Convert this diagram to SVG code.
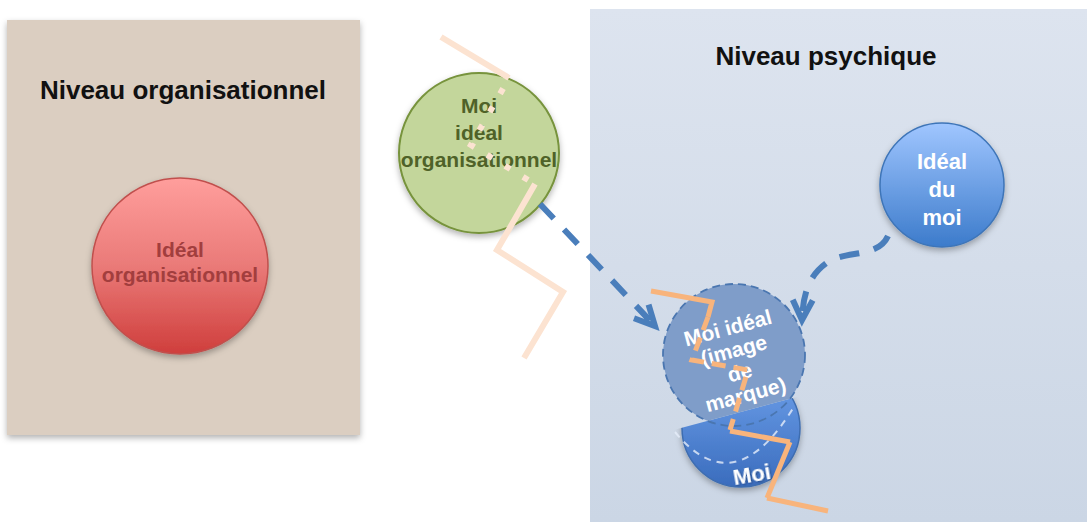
<svg xmlns="http://www.w3.org/2000/svg" width="1087" height="522" viewBox="0 0 1087 522">
<style>
.title{font-family:"Liberation Sans",Arial,sans-serif;font-weight:bold;font-size:26px;fill:#111;text-anchor:middle}
.lbl{font-family:"Liberation Sans",Arial,sans-serif;font-weight:bold;font-size:21px;text-anchor:middle}
.white{fill:#fff}
.peach{fill:none;stroke:#FCE3D1;stroke-width:6}
.orange{fill:none;stroke:#F8B47C;stroke-width:5}
.arrow{fill:none;stroke:#4A7EBB;stroke-width:6;stroke-dasharray:20 15}
</style>
<defs>
<linearGradient id="gRed" x1="0" y1="0" x2="0" y2="1"><stop offset="0" stop-color="#FF9E9C"/><stop offset="0.5" stop-color="#EA7A78"/><stop offset="1" stop-color="#CF3E3C"/></linearGradient>
<linearGradient id="gBlue" x1="0" y1="0" x2="0" y2="1"><stop offset="0" stop-color="#A0C6FF"/><stop offset="1" stop-color="#3C7BCB"/></linearGradient>
<linearGradient id="gMoi" x1="0" y1="0" x2="0" y2="1"><stop offset="0" stop-color="#6FA2EC"/><stop offset="1" stop-color="#3A6CBD"/></linearGradient>
<linearGradient id="gPsy" x1="0" y1="0" x2="0" y2="1"><stop offset="0" stop-color="#DDE4EF"/><stop offset="1" stop-color="#CBD6E5"/></linearGradient>
<filter id="sh" x="-20%" y="-20%" width="140%" height="150%"><feDropShadow dx="0" dy="3" stdDeviation="3" flood-color="#000" flood-opacity="0.3"/></filter>
<filter id="tsh" x="-20%" y="-20%" width="140%" height="150%"><feDropShadow dx="1" dy="1" stdDeviation="1" flood-color="#000" flood-opacity="0.35"/></filter>
<clipPath id="below"><polygon points="640,439 830,388 830,522 640,522"/></clipPath>
<clipPath id="above"><polygon points="640,439 830,388 830,270 640,270"/></clipPath>
<marker id="chev" markerUnits="userSpaceOnUse" markerWidth="40" markerHeight="40" viewBox="-30 -20 40 40" refX="0" refY="0" orient="auto">
<path d="M -20 -10 L 0 0 L -20 10" fill="none" stroke="#4A7EBB" stroke-width="6"/>
</marker>
</defs>

<g id="panel-organisationnel">
<rect x="7" y="20" width="353" height="415" fill="#DBCEC1" filter="url(#sh)"/>
<text class="title" x="183" y="99">Niveau organisationnel</text>
</g>
<g id="panel-psychique">
<rect x="590" y="9" width="497" height="513" fill="url(#gPsy)"/>
<text class="title" x="826" y="65">Niveau psychique</text>
</g>

<g id="ideal-organisationnel">
<circle cx="180" cy="266" r="88" fill="url(#gRed)" stroke="#C0504D" stroke-width="1.5" filter="url(#sh)"/>
<text class="lbl" x="180" y="257" fill="#A23E3E">Idéal</text>
<text class="lbl" x="180" y="282" fill="#A23E3E">organisationnel</text>
</g>

<g id="moi-ideal-organisationnel">
<circle cx="479" cy="153" r="80" fill="#C3D69B" stroke="#77933C" stroke-width="2" filter="url(#sh)"/>
<text class="lbl" x="479" y="113" fill="#4F6228">Moi</text>
<text class="lbl" x="479" y="140" fill="#4F6228">idéal</text>
<text class="lbl" x="479" y="167" fill="#4F6228">organisationnel</text>
</g>

<g id="zigzag-organisationnel">
<polyline class="peach" points="441,37 509,78"/>
<polyline class="peach" points="509,78 471,145 533,183" stroke="#F6DDCB" stroke-dasharray="6 15" stroke-dashoffset="-12"/>
<polyline class="peach" points="535,184 497,250 563,292 524,358"/>
</g>

<g id="ideal-du-moi">
<circle cx="942" cy="185" r="62" fill="url(#gBlue)" stroke="#3E75B8" stroke-width="1.5" filter="url(#sh)"/>
<text class="lbl white" x="942" y="169" style="font-size:22px">Idéal</text>
<text class="lbl white" x="942" y="197" style="font-size:22px">du</text>
<text class="lbl white" x="942" y="225" style="font-size:22px">moi</text>
</g>

<g id="moi">
<circle cx="741" cy="428" r="59" fill="url(#gMoi)" stroke="#3E6DB0" stroke-width="1.5" clip-path="url(#below)" filter="url(#sh)"/>
<path d="M 675 432 Q 735 505 795 405" fill="none" stroke="#E6EEFA" stroke-width="2" stroke-dasharray="7 6" opacity="0.8"/>
<text class="lbl white" x="752" y="482" style="font-size:22px" transform="rotate(-10 752 475)" filter="url(#tsh)">Moi</text>
</g>

<g id="moi-ideal">
<circle cx="734" cy="355" r="71" fill="#7F9DC9" clip-path="url(#above)"/>
<circle cx="734" cy="355" r="71" fill="none" stroke="#4A76B0" stroke-width="1.8" stroke-dasharray="8 5"/>
<g transform="rotate(-15 737 362)">
<text class="lbl white" x="737" y="334">Moi idéal</text>
<text class="lbl white" x="737" y="357">(image</text>
<text class="lbl white" x="737" y="380">de</text>
<text class="lbl white" x="737" y="403">marque)</text>
</g>
</g>

<g id="zigzag-psychique">
<polyline class="orange" points="651,291 712,302 708,317"/>
<polyline class="orange" points="708,317 692,360 748,370 730,430" stroke-dasharray="14 8"/>
<polyline class="orange" points="730,431 790,442"/>
<polyline class="orange" points="790,442 767,498" stroke="#FCE0CC"/>
<polyline class="orange" points="767,498 828,511"/>
</g>

<g id="connectors">
<path class="arrow" d="M 540 204 L 655 326" marker-end="url(#chev)"/>
<path class="arrow" d="M 888 236 C 878 258, 848 250, 828 262 C 810 274, 803 292, 802 320" marker-end="url(#chev)"/>
</g>
</svg>
